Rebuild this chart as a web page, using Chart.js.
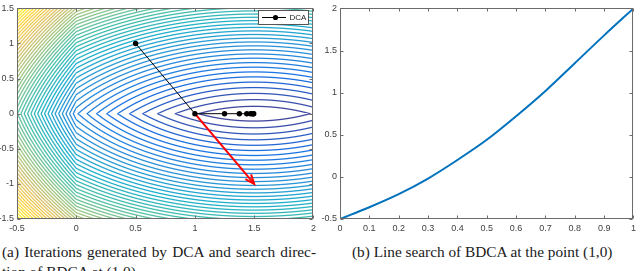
<!DOCTYPE html>
<html>
<head>
<meta charset="utf-8">
<script src="https://cdn.jsdelivr.net/npm/chart.js@4.4.1/dist/chart.umd.min.js"></script>
<style>
  html, body { margin: 0; padding: 0; background: #fff; }
  body { width: 640px; height: 271px; overflow: hidden; position: relative; }
  canvas { position: absolute; top: 0; }
  #left { left: 0; }
  #right { left: 320px; }
  .cap { position: absolute; font-family: 'Liberation Serif', 'Times New Roman', serif;
         font-size: 15.3px; line-height: 20px; color: #1a1a1a; white-space: nowrap; }
  #capA1 { left: 2px; top: 242px; width: 314px; text-align: justify; text-align-last: justify; white-space: normal; }
  #capA2 { left: 2px; top: 262px; }
  #capB { left: 352px; top: 242px; }
</style>
</head>
<body>
<canvas id="left" width="320" height="240"></canvas>
<canvas id="right" width="320" height="240"></canvas>
<div class="cap" id="capA1">(a) Iterations generated by DCA and search direc-</div>
<div class="cap" id="capA2">tion of BDCA at (1,0)</div>
<div class="cap" id="capB">(b) Line search of BDCA at the point (1,0)</div>

<script>
// left panel: DCA iterations over contour of phi
const dcaX = [0.5, 1, 1.25, 1.375, 1.4375, 1.46875, 1.484, 1.492, 1.496];
const dcaY = [1, 0, 0, 0, 0, 0, 0, 0, 0];
const arrowX = [1, 1.5];
const arrowY = [0, -1];
const leftXTicks = [-0.5, 0, 0.5, 1, 1.5, 2];
const leftYTicks = [-1.5, -1, -0.5, 0, 0.5, 1, 1.5];

// contour levels: 50 even levels between min and max of phi on the box
const zMin = -1.125;
const zMax = 4.5;
const nLevels = 50;

// right panel: line search values
const lambda = [0, 0.1, 0.2, 0.3, 0.4, 0.5, 0.6, 0.7, 0.8, 0.9, 1];
const lineVals = [-0.5, -0.36, -0.205, -0.02, 0.2, 0.44, 0.72, 1.02, 1.35, 1.68, 2.0];
const rightYTicks = [-0.5, 0, 0.5, 1, 1.5, 2];

function phi(x, y) {
  return (x * x + y * y) / 2 - 2.5 * x + Math.abs(x) + Math.abs(y);
}

const parulaStops = [
  [0, [53, 42, 135]], [0.125, [3, 99, 225]], [0.25, [20, 133, 212]],
  [0.375, [6, 167, 198]], [0.5, [56, 185, 158]], [0.625, [146, 191, 115]],
  [0.75, [217, 186, 86]], [0.875, [252, 206, 46]], [1, [249, 251, 14]]
];
function parula(t) {
  t = Math.max(0, Math.min(1, t));
  for (let i = 1; i < parulaStops.length; i++) {
    const [t1, c1] = parulaStops[i];
    if (t <= t1) {
      const [t0, c0] = parulaStops[i - 1];
      const f = (t - t0) / (t1 - t0);
      return c0.map((v, k) => v + (c1[k] - v) * f);
    }
  }
  return parulaStops[parulaStops.length - 1][1];
}

Chart.defaults.font.family = "'Liberation Sans', Arial, sans-serif";
Chart.defaults.animation = false;

const contourPlugin = {
  id: 'contours',
  beforeDatasetsDraw(chart) {
    const { ctx, chartArea: a, scales: { x, y } } = chart;
    const x0 = Math.round(a.left), y0 = Math.round(a.top);
    const w = Math.round(a.right) - x0, h = Math.round(a.bottom) - y0;
    const img = ctx.createImageData(w, h);
    const step = (zMax - zMin) / (nLevels + 1);
    const lw = 1.3;
    for (let j = 0; j < h; j++) {
      const yv = y.getValueForPixel(y0 + j + 0.5);
      const yv1 = y.getValueForPixel(y0 + j + 1.5);
      for (let i = 0; i < w; i++) {
        const xv = x.getValueForPixel(x0 + i + 0.5);
        const xv1 = x.getValueForPixel(x0 + i + 1.5);
        const f = phi(xv, yv);
        const g = Math.hypot(phi(xv1, yv) - f, phi(xv, yv1) - f) || 1e-9;
        let k = Math.round((f - zMin) / step);
        k = Math.max(1, Math.min(nLevels, k));
        const lev = zMin + k * step;
        const d = Math.abs(f - lev) / g;
        const al = 0.9 * Math.max(0, Math.min(1, lw / 2 + 0.5 - d));
        const c = parula((lev - zMin) / (zMax - zMin));
        const p = (j * w + i) * 4;
        img.data[p] = 255 + (c[0] - 255) * al;
        img.data[p + 1] = 255 + (c[1] - 255) * al;
        img.data[p + 2] = 255 + (c[2] - 255) * al;
        img.data[p + 3] = 255;
      }
    }
    ctx.putImageData(img, x0, y0);
  }
};

const arrowHead = {
  id: 'arrowHead',
  afterDatasetsDraw(chart) {
    const { ctx, scales: { x, y } } = chart;
    const xa = x.getPixelForValue(arrowX[0]), ya = y.getPixelForValue(arrowY[0]);
    const xb = x.getPixelForValue(arrowX[1]), yb = y.getPixelForValue(arrowY[1]);
    const ang = Math.atan2(yb - ya, xb - xa);
    const len = 10, spread = 0.38;
    ctx.save();
    ctx.strokeStyle = '#ff0000';
    ctx.lineWidth = 2;
    ctx.beginPath();
    ctx.moveTo(xb - len * Math.cos(ang - spread), yb - len * Math.sin(ang - spread));
    ctx.lineTo(xb, yb);
    ctx.lineTo(xb - len * Math.cos(ang + spread), yb - len * Math.sin(ang + spread));
    ctx.stroke();
    ctx.restore();
  }
};

const legendBox = {
  id: 'legendBox',
  afterDraw(chart) {
    const { ctx } = chart;
    ctx.save();
    ctx.fillStyle = '#fff';
    ctx.fillRect(258.5, 10.5, 50, 14);
    ctx.strokeStyle = '#555';
    ctx.lineWidth = 1;
    ctx.strokeRect(258.5, 10.5, 50, 14);
    ctx.strokeStyle = '#000';
    ctx.beginPath();
    ctx.moveTo(262, 17.5);
    ctx.lineTo(286, 17.5);
    ctx.stroke();
    ctx.fillStyle = '#000';
    ctx.beginPath();
    ctx.arc(275.5, 17.5, 2.6, 0, Math.PI * 2);
    ctx.fill();
    ctx.font = "8px 'Liberation Sans', Arial, sans-serif";
    ctx.textBaseline = 'middle';
    ctx.fillStyle = '#222';
    ctx.fillText('DCA', 289.5, 18);
    ctx.restore();
  }
};

const matlabBox = {
  id: 'matlabBox',
  afterDraw(chart) {
    const { ctx, chartArea: a, scales: { x, y } } = chart;
    const L = Math.round(a.left) + 0.5, R = Math.round(a.right) - 0.5;
    const T = Math.round(a.top) + 0.5, B = Math.round(a.bottom) - 0.5;
    ctx.save();
    ctx.strokeStyle = '#6b6b6b';
    ctx.lineWidth = 1;
    ctx.strokeRect(L, T, R - L, B - T);
    ctx.beginPath();
    const tl = 3;
    x.ticks.forEach(t => {
      const px = Math.round(x.getPixelForValue(t.value)) + 0.5;
      ctx.moveTo(px, B); ctx.lineTo(px, B - tl);
      ctx.moveTo(px, T); ctx.lineTo(px, T + tl);
    });
    y.ticks.forEach(t => {
      const py = Math.round(y.getPixelForValue(t.value)) + 0.5;
      ctx.moveTo(L, py); ctx.lineTo(L + tl, py);
      ctx.moveTo(R, py); ctx.lineTo(R - tl, py);
    });
    ctx.stroke();
    ctx.restore();
  }
};

function axisOpts(min, max, ticks, pos, size, pad) {
  return {
    type: 'linear', min: min, max: max, position: pos,
    grid: { display: false, drawTicks: false },
    border: { display: false },
    afterBuildTicks(s) { s.ticks = ticks.map(v => ({ value: v })); },
    afterFit(s) { if (pos === 'left') s.width = size; else s.height = size; },
    ticks: {
      autoSkip: false, maxRotation: 0, padding: pad,
      color: '#404040', font: { size: 9 },
      callback: v => String(Math.round(v * 100) / 100)
    }
  };
}

new Chart(document.getElementById('left'), {
  type: 'scatter',
  data: {
    datasets: [
      {
        label: 'DCA',
        data: dcaX.map((v, i) => ({ x: v, y: dcaY[i] })),
        showLine: true,
        borderColor: '#000',
        backgroundColor: '#000',
        borderWidth: 1,
        pointRadius: 2.7,
        pointBorderWidth: 0
      },
      {
        label: 'direction',
        data: arrowX.map((v, i) => ({ x: v, y: arrowY[i] })),
        showLine: true,
        borderColor: '#ff0000',
        borderWidth: 2,
        pointRadius: 0
      }
    ]
  },
  options: {
    responsive: false,
    devicePixelRatio: 1,
    layout: { padding: { top: 3, right: 5, left: 0, bottom: 0 } },
    plugins: { legend: { display: false }, tooltip: { enabled: false } },
    scales: {
      x: axisOpts(-0.5, 2, leftXTicks, 'bottom', 21, 4),
      y: axisOpts(-1.5, 1.5, leftYTicks, 'left', 17, 3)
    }
  },
  plugins: [contourPlugin, arrowHead, legendBox, matlabBox]
});

new Chart(document.getElementById('right'), {
  type: 'line',
  data: {
    datasets: [{
      data: lambda.map((v, i) => ({ x: v, y: lineVals[i] })),
      borderColor: '#0072bd',
      borderWidth: 2,
      pointRadius: 0,
      cubicInterpolationMode: 'monotone'
    }]
  },
  options: {
    responsive: false,
    devicePixelRatio: 1,
    layout: { padding: { top: 3, right: 3, left: 0, bottom: 0 } },
    plugins: { legend: { display: false }, tooltip: { enabled: false } },
    scales: {
      x: axisOpts(0, 1, lambda, 'bottom', 21, 4),
      y: axisOpts(-0.5, 2, rightYTicks, 'left', 20, 3)
    }
  },
  plugins: [matlabBox]
});
</script>
</body>
</html>
